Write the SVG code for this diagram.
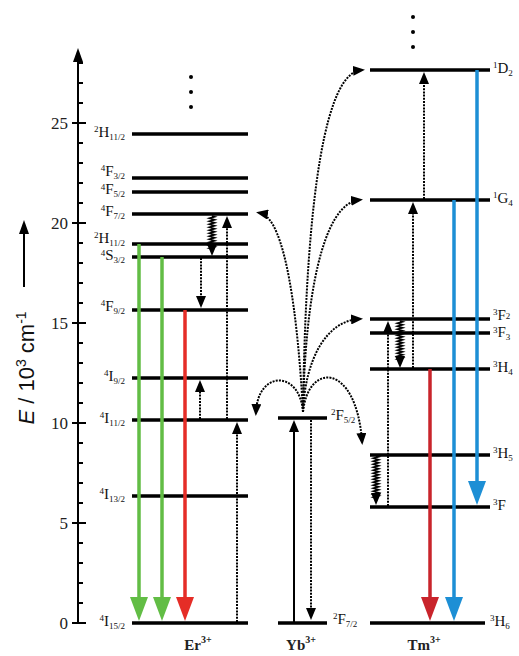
<svg xmlns="http://www.w3.org/2000/svg" width="519" height="656" viewBox="0 0 519 656">
<style>
.lvl{stroke:#000;stroke-width:3.5;fill:none}
.ax{stroke:#000;stroke-width:2;fill:none}
.lb{font-family:"Liberation Serif","Times New Roman",serif;font-size:15px;fill:#111}
.s{font-size:9px}
.tk{font-family:"Liberation Serif","Times New Roman",serif;font-size:17px;fill:#222;text-anchor:end}
.ion{font-family:"Liberation Serif","Times New Roman",serif;font-size:15px;font-weight:bold;fill:#222;text-anchor:middle}
.dot{stroke:#000;stroke-width:2;stroke-dasharray:2 1.2;fill:none}
.sol{stroke:#000;stroke-width:2;fill:none}
.wav{stroke:#000;stroke-width:1.8;fill:none}
.g{stroke:#62bd45;stroke-width:3.5;fill:none}
.r{stroke:#e52d27;stroke-width:3.5;fill:none}
.r2{stroke:#c9242b;stroke-width:3.5;fill:none}
.b{stroke:#1d8fd5;stroke-width:3.5;fill:none}
</style>
<defs>
<marker id="ah" markerUnits="userSpaceOnUse" markerWidth="12" markerHeight="10" refX="8" refY="5" orient="auto"><path d="M0,0 L12,5 L0,10 z" fill="#000"/></marker>
<marker id="ahG" markerUnits="userSpaceOnUse" markerWidth="24" markerHeight="18" refX="16" refY="9" orient="auto"><path d="M0,0 L24,9 L0,18 z" fill="#62bd45"/></marker>
<marker id="ahR" markerUnits="userSpaceOnUse" markerWidth="24" markerHeight="18" refX="16" refY="9" orient="auto"><path d="M0,0 L24,9 L0,18 z" fill="#e52d27"/></marker>
<marker id="ahR2" markerUnits="userSpaceOnUse" markerWidth="24" markerHeight="18" refX="16" refY="9" orient="auto"><path d="M0,0 L24,9 L0,18 z" fill="#c9242b"/></marker>
<marker id="ahB" markerUnits="userSpaceOnUse" markerWidth="24" markerHeight="18" refX="16" refY="9" orient="auto"><path d="M0,0 L24,9 L0,18 z" fill="#1d8fd5"/></marker>
<marker id="ahAx" markerUnits="userSpaceOnUse" markerWidth="14" markerHeight="10" refX="10" refY="5" orient="auto"><path d="M0,0 L14,5 L0,10 z" fill="#000"/></marker>
</defs>
<rect width="519" height="656" fill="#fff"/>

<g id="axis">
<path class="ax" d="M78,623 L78,52" marker-end="url(#ahAx)"/>
<path class="ax" d="M72,623H86 M72,523H86 M72,423H86 M72,323H86 M72,223H86 M72,123H86"/>
<path class="ax" d="M78,603H83 M78,583H83 M78,563H83 M78,543H83 M78,503H83 M78,483H83 M78,463H83 M78,443H83 M78,403H83 M78,383H83 M78,363H83 M78,343H83 M78,303H83 M78,283H83 M78,263H83 M78,243H83 M78,203H83 M78,183H83 M78,163H83 M78,143H83 M78,103H83 M78,83H83 M78,63H83"/>
<text class="tk" x="68" y="629">0</text>
<text class="tk" x="68" y="529">5</text>
<text class="tk" x="68" y="429">10</text>
<text class="tk" x="68" y="329">15</text>
<text class="tk" x="68" y="229">20</text>
<text class="tk" x="68" y="129">25</text>
<text transform="translate(34,368) rotate(-90)" text-anchor="middle" font-family="Liberation Sans, Arial, sans-serif" font-size="22" fill="#111"><tspan font-style="italic">E</tspan> / 10<tspan font-size="14" dy="-8">3</tspan><tspan dy="8"> cm</tspan><tspan font-size="14" dy="-8">-1</tspan></text>
<path class="ax" d="M24,287 L24,224" marker-end="url(#ahAx)"/>
</g>

<g id="er">
<g id="er-2H11-2a"><path class="lvl" d="M132,134H248"/><text class="lb" x="125" y="137" text-anchor="end"><tspan class="s" dy="-5">2</tspan><tspan dy="5">H</tspan><tspan class="s" dy="3">11/2</tspan></text></g>
<g id="er-4F3-2"><path class="lvl" d="M132,178H248"/><text class="lb" x="125" y="176" text-anchor="end"><tspan class="s" dy="-5">4</tspan><tspan dy="5">F</tspan><tspan class="s" dy="3">3/2</tspan></text></g>
<g id="er-4F5-2"><path class="lvl" d="M132,192H248"/><text class="lb" x="125" y="194" text-anchor="end"><tspan class="s" dy="-4">4</tspan><tspan dy="4">F</tspan><tspan class="s" dy="3">5/2</tspan></text></g>
<g id="er-4F7-2"><path class="lvl" d="M132,214H248"/><text class="lb" x="125" y="216" text-anchor="end"><tspan class="s" dy="-5">4</tspan><tspan dy="5">F</tspan><tspan class="s" dy="3">7/2</tspan></text></g>
<g id="er-2H11-2b"><path class="lvl" d="M132,244H248"/><text class="lb" x="125" y="243" text-anchor="end"><tspan class="s" dy="-5">2</tspan><tspan dy="5">H</tspan><tspan class="s" dy="3">11/2</tspan></text></g>
<g id="er-4S3-2"><path class="lvl" d="M132,257H248"/><text class="lb" x="125" y="260" text-anchor="end"><tspan class="s" dy="-4">4</tspan><tspan dy="4">S</tspan><tspan class="s" dy="3">3/2</tspan></text></g>
<g id="er-4F9-2"><path class="lvl" d="M132,310H248"/><text class="lb" x="125" y="311" text-anchor="end"><tspan class="s" dy="-5">4</tspan><tspan dy="5">F</tspan><tspan class="s" dy="3">9/2</tspan></text></g>
<g id="er-4I9-2"><path class="lvl" d="M132,378H248"/><text class="lb" x="125" y="381" text-anchor="end"><tspan class="s" dy="-5">4</tspan><tspan dy="5">I</tspan><tspan class="s" dy="3">9/2</tspan></text></g>
<g id="er-4I11-2"><path class="lvl" d="M132,420H248"/><text class="lb" x="125" y="423" text-anchor="end"><tspan class="s" dy="-5">4</tspan><tspan dy="5">I</tspan><tspan class="s" dy="3">11/2</tspan></text></g>
<g id="er-4I13-2"><path class="lvl" d="M132,496H248"/><text class="lb" x="125" y="499" text-anchor="end"><tspan class="s" dy="-5">4</tspan><tspan dy="5">I</tspan><tspan class="s" dy="3">13/2</tspan></text></g>
<g id="er-4I15-2"><path class="lvl" d="M132,623H248"/><text class="lb" x="125" y="626" text-anchor="end"><tspan class="s" dy="-5">4</tspan><tspan dy="5">I</tspan><tspan class="s" dy="3">15/2</tspan></text></g>
<g id="er-dots" fill="#000"><circle cx="191" cy="77" r="2"/><circle cx="191" cy="92" r="2"/><circle cx="191" cy="107" r="2"/></g>
<text class="ion" x="198" y="650">Er<tspan font-size="10" dy="-7">3+</tspan></text>
</g>

<g id="yb">
<g id="yb-2F5-2"><path class="lvl" d="M278,418H327"/><text class="lb" x="331" y="420"><tspan class="s" dy="-5">2</tspan><tspan dy="5">F</tspan><tspan class="s" dy="3">5/2</tspan></text></g>
<g id="yb-2F7-2"><path class="lvl" d="M278,623H327"/><text class="lb" x="333" y="624"><tspan class="s" dy="-5">2</tspan><tspan dy="5">F</tspan><tspan class="s" dy="3">7/2</tspan></text></g>
<text class="ion" x="301" y="650">Yb<tspan font-size="10" dy="-7">3+</tspan></text>
</g>

<g id="tm">
<g id="tm-1D2"><path class="lvl" d="M370,70H490"/><text class="lb" x="493" y="73"><tspan class="s" dy="-5">1</tspan><tspan dy="5">D</tspan><tspan class="s" dy="3">2</tspan></text></g>
<g id="tm-1G4"><path class="lvl" d="M370,200H490"/><text class="lb" x="493" y="203"><tspan class="s" dy="-5">1</tspan><tspan dy="5">G</tspan><tspan class="s" dy="3">4</tspan></text></g>
<g id="tm-3F2"><path class="lvl" d="M370,319H490"/><text class="lb" x="493" y="320"><tspan class="s" dy="-5">3</tspan><tspan dy="5">F</tspan><tspan class="s" dy="-1">2</tspan></text></g>
<g id="tm-3F3"><path class="lvl" d="M370,333H490"/><text class="lb" x="493" y="337"><tspan class="s" dy="-4">3</tspan><tspan dy="4">F</tspan><tspan class="s" dy="3">3</tspan></text></g>
<g id="tm-3H4"><path class="lvl" d="M370,369H490"/><text class="lb" x="493" y="372"><tspan class="s" dy="-5">3</tspan><tspan dy="5">H</tspan><tspan class="s" dy="3">4</tspan></text></g>
<g id="tm-3H5"><path class="lvl" d="M370,455H490"/><text class="lb" x="493" y="458"><tspan class="s" dy="-5">3</tspan><tspan dy="5">H</tspan><tspan class="s" dy="3">5</tspan></text></g>
<g id="tm-3F4"><path class="lvl" d="M370,507H490"/><text class="lb" x="493" y="510"><tspan class="s" dy="-5">3</tspan><tspan dy="5">F</tspan></text></g>
<g id="tm-3H6"><path class="lvl" d="M370,623H485"/><text class="lb" x="490" y="626"><tspan class="s" dy="-5">3</tspan><tspan dy="5">H</tspan><tspan class="s" dy="3">6</tspan></text></g>
<g id="tm-dots" fill="#000"><circle cx="413" cy="17" r="2"/><circle cx="413" cy="32" r="2"/><circle cx="413" cy="47" r="2"/></g>
<text class="ion" x="424" y="650">Tm<tspan font-size="10" dy="-7">3+</tspan></text>
</g>

<g id="connectors">
<path class="g" d="M139,244V613" marker-end="url(#ahG)"/>
<path class="g" d="M162,257V613" marker-end="url(#ahG)"/>
<path class="r" d="M185,310V613" marker-end="url(#ahR)"/>
<path class="b" d="M477,70V497" marker-end="url(#ahB)"/>
<path class="b" d="M454,200V613" marker-end="url(#ahB)"/>
<path class="r2" d="M430,369V613" marker-end="url(#ahR2)"/>
<path class="sol" d="M294,623V424" marker-end="url(#ah)"/>
<path class="dot" d="M311,420V616" marker-end="url(#ah)"/>
<path class="dot" d="M237,622V426" marker-end="url(#ah)"/>
<path class="dot" d="M227,419V220" marker-end="url(#ah)"/>
<path class="dot" d="M200,419V384" marker-end="url(#ah)"/>
<path class="dot" d="M201,258V304" marker-end="url(#ah)"/>
<path class="wav" d="M212,216 l2.5,0.75 l-5,1.5 l2.5,0.75 l2.5,0.75 l-5,1.5 l2.5,0.75 l2.5,0.75 l-5,1.5 l2.5,0.75 l2.5,0.75 l-5,1.5 l2.5,0.75 l2.5,0.75 l-5,1.5 l2.5,0.75 l2.5,0.75 l-5,1.5 l2.5,0.75 l2.5,0.75 l-5,1.5 l2.5,0.75 l2.5,0.75 l-5,1.5 l2.5,0.75 l2.5,0.75 l-5,1.5 l2.5,0.75 l2.5,0.75 l-5,1.5 l2.5,0.75 l2.5,0.75 l-5,1.5 l2.5,0.75 l0,3" marker-end="url(#ah)"/>
<path class="dot" d="M424,199V76" marker-end="url(#ah)"/>
<path class="dot" d="M413,368V206" marker-end="url(#ah)"/>
<path class="dot" d="M388,506V325" marker-end="url(#ah)"/>
<path class="wav" d="M400,321 l2.5,0.75 l-5,1.5 l2.5,0.75 l2.5,0.75 l-5,1.5 l2.5,0.75 l2.5,0.75 l-5,1.5 l2.5,0.75 l2.5,0.75 l-5,1.5 l2.5,0.75 l2.5,0.75 l-5,1.5 l2.5,0.75 l2.5,0.75 l-5,1.5 l2.5,0.75 l2.5,0.75 l-5,1.5 l2.5,0.75 l2.5,0.75 l-5,1.5 l2.5,0.75 l2.5,0.75 l-5,1.5 l2.5,0.75 l2.5,0.75 l-5,1.5 l2.5,0.75 l2.5,0.75 l-5,1.5 l2.5,0.75 l2.5,0.75 l-5,1.5 l2.5,0.75 l2.5,0.75 l-5,1.5 l2.5,0.75 l0,4" marker-end="url(#ah)"/>
<path class="wav" d="M376,456 l2.5,0.75 l-5,1.5 l2.5,0.75 l2.5,0.75 l-5,1.5 l2.5,0.75 l2.5,0.75 l-5,1.5 l2.5,0.75 l2.5,0.75 l-5,1.5 l2.5,0.75 l2.5,0.75 l-5,1.5 l2.5,0.75 l2.5,0.75 l-5,1.5 l2.5,0.75 l2.5,0.75 l-5,1.5 l2.5,0.75 l2.5,0.75 l-5,1.5 l2.5,0.75 l2.5,0.75 l-5,1.5 l2.5,0.75 l2.5,0.75 l-5,1.5 l2.5,0.75 l2.5,0.75 l-5,1.5 l2.5,0.75 l2.5,0.75 l-5,1.5 l2.5,0.75 l2.5,0.75 l-5,1.5 l2.5,0.75 l2.5,0.75 l-5,1.5 l2.5,0.75 l0,3" marker-end="url(#ah)"/>
<path class="dot" d="M303,412 C298,320 286,218 260,213" marker-end="url(#ah)"/>
<path class="dot" d="M303,412 C305,250 318,74 361,70" marker-end="url(#ah)"/>
<path class="dot" d="M303,412 C305,300 322,204 359,200" marker-end="url(#ah)"/>
<path class="dot" d="M303,412 C305,360 326,321 359,319" marker-end="url(#ah)"/>
<path class="dot" d="M303,412 C300,370 258,370 256,412" marker-end="url(#ah)"/>
<path class="dot" d="M303,412 C308,362 356,362 362,441" marker-end="url(#ah)"/>
</g>
</svg>
